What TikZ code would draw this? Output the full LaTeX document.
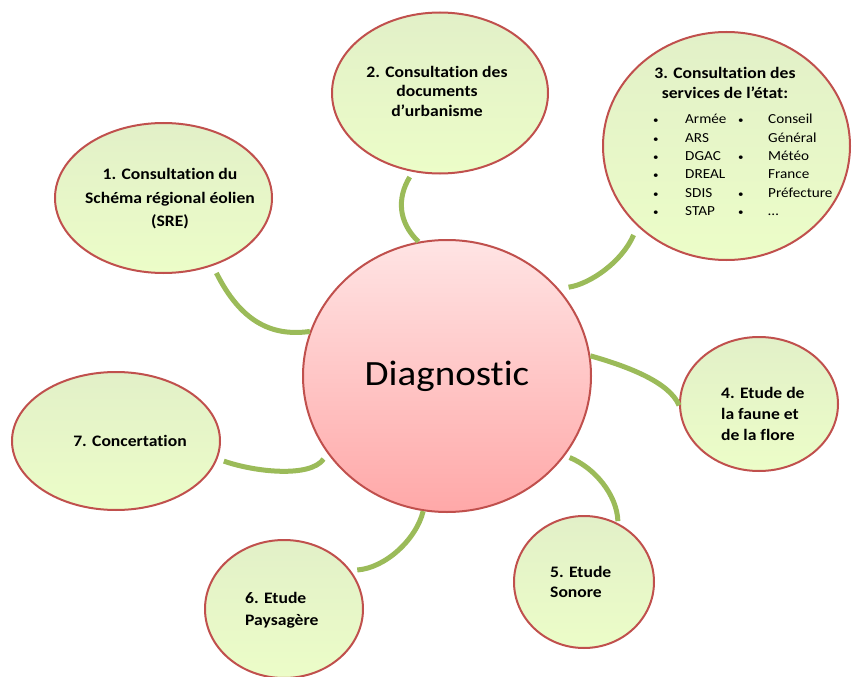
\documentclass[tikz,border=0pt]{standalone}
\usepackage{fontspec}
\setmainfont{Carlito}[FakeStretch=1.1,Ligatures=NoCommon]
\usetikzlibrary{shapes.geometric}
\definecolor{bord}{HTML}{C0504D}
\definecolor{conn}{HTML}{9BBB59}
\definecolor{gtop}{RGB}{226,240,200}
\definecolor{gbot}{RGB}{236,253,200}
\definecolor{ptop}{RGB}{255,228,228}
\definecolor{pbot}{RGB}{255,168,168}
\newcommand{\smallbul}{{\fontsize{10}{10}\selectfont\textbullet}}
\begin{document}
\begin{tikzpicture}[x=1pt,y=-1pt,
  bubble/.style={ellipse, draw=bord, line width=2pt, top color=gtop, bottom color=gbot, inner sep=0pt},
  hub/.style={ellipse, draw=bord, line width=2pt, top color=ptop, bottom color=pbot, inner sep=0pt,
    minimum width=288pt, minimum height=272pt, font=\fontsize{35.5}{40}\selectfont},
  lab/.style={font=\bfseries\fontsize{16}{20}\selectfont, inner sep=0pt},
  link/.style={draw=conn, line width=5pt},
]
\useasboundingbox (0,0) rectangle (852,677);

% shapes
\node[hub] (c) at (447,376) {Diagnostic};
\node[bubble, minimum width=217pt, minimum height=150pt] (n1) at (163.5,198) {};
\node[bubble, minimum width=216pt, minimum height=161pt] (n2) at (440,93) {};
\node[bubble, minimum width=247pt, minimum height=228pt] (n3) at (726.5,146) {};
\node[bubble, minimum width=158pt, minimum height=134pt] (n4) at (759,404) {};
\node[bubble, minimum width=140pt, minimum height=132pt] (n5) at (584,582) {};
\node[bubble, minimum width=158pt, minimum height=138pt] (n6) at (284,609) {};
\node[bubble, minimum width=208pt, minimum height=138pt] (n7) at (116,441) {};

% connectors
\draw[link, shorten <=8pt] (n1.-54.6) .. controls (240,320) and (270,337) .. (c.162.6);
\draw[link, shorten <=6pt] (n2.251.4) .. controls (397,198) and (398,222) .. (c.102.4);
\draw[link, shorten <=9.5pt, shorten >=10pt] (n3.222.6) .. controls (622,262) and (590,284) .. (c.38);
\draw[link] (c.8.4) .. controls (630,367) and (670,383) .. (n4.181);
\draw[link, shorten <=5pt, shorten >=2pt] (c.-34.1) .. controls (595,468) and (617,495) .. (n5.60.5);
\draw[link, shorten >=6.5pt] (c.-100.4) .. controls (416,540) and (385,568) .. (n6.30.6);
\draw[link, shorten <=6.7pt, shorten >=6.7pt] (n7.-10) .. controls (255,472) and (310,478) .. (c.213.2);

% texts
\node[lab, align=center, font=\bfseries\fontsize{16}{23.5}\selectfont] (t1) at (170,199)
  {1. Consultation du\\Schéma régional éolien\\(SRE)};
\node[lab, align=center, font=\bfseries\fontsize{16}{19.5}\selectfont] (t2) at (437,91)
  {2. Consultation des\\documents\\d’urbanisme};
\node[lab, align=center] (t3) at (725,83) {3. Consultation des\\services de l’état:};
\node[inner sep=0pt, anchor=west, font=\fontsize{13.8}{18.4}\selectfont] (t3l) at (653,166)
  {\begin{tabular}{@{}p{32pt}@{}p{53pt}@{}p{30pt}@{}l@{}}
   \smallbul & Armée & \smallbul & Conseil\\
   \smallbul & ARS   &           & Général\\
   \smallbul & DGAC  & \smallbul & Météo\\
   \smallbul & DREAL &           & France\\
   \smallbul & SDIS  & \smallbul & Préfecture\\
   \smallbul & STAP  & \smallbul & …
   \end{tabular}};
\node[lab, align=left, anchor=west, font=\bfseries\fontsize{16}{21}\selectfont] (t4) at (721,414)
  {4. Etude de\\la faune et\\de la flore};
\node[lab, align=left, anchor=west] (t5) at (550,582) {5. Etude\\Sonore};
\node[lab, align=left, anchor=west, font=\bfseries\fontsize{16}{22}\selectfont] (t6) at (245,610)
  {6. Etude\\Paysagère};
\node[lab] (t7) at (130,441) {7. Concertation};
\end{tikzpicture}
\end{document}
